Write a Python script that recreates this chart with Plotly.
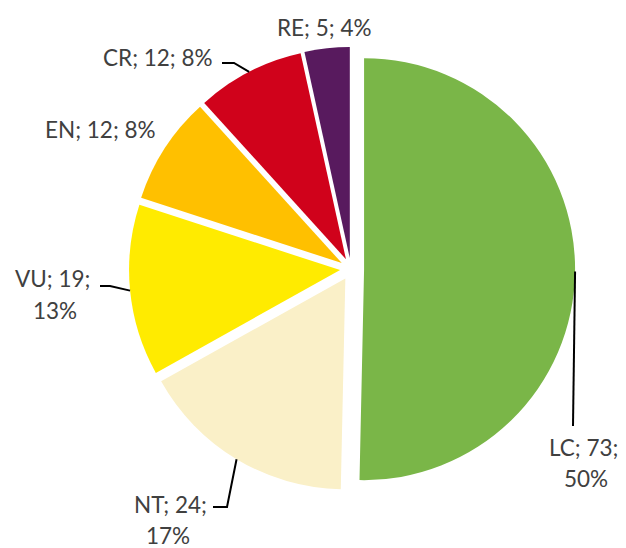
import math
import plotly.graph_objects as go

# ---- data ----
categories = ["LC", "NT", "VU", "EN", "CR", "RE"]
counts = [73, 24, 19, 12, 12, 5]
percent_labels = ["50%", "17%", "13%", "8%", "8%", "4%"]
colors = ["#7AB648", "#FAF0C8", "#FFEB00", "#FFC000", "#D0021B", "#581A5E"]
pulls = [0.062, 0.052, 0.052, 0.052, 0.052, 0.052]

# page body has an 8px margin, so figure origin sits at (8, 8) on screen
OFF = 8
W, H = 626 - OFF, 548 - OFF
CX, CY, R = 351 - OFF, 269 - OFF, 211  # pie centre / radius in figure px
max_pull = max(pulls)
size = R * 2 * (1 + max_pull)
dom_x = [(CX - size / 2) / W, (CX + size / 2) / W]
dom_y = [1 - (CY + size / 2) / H, 1 - (CY - size / 2) / H]

fig = go.Figure(go.Pie(
    labels=categories, values=counts, marker=dict(colors=colors, line=dict(width=0)),
    pull=pulls, sort=False, direction="clockwise", rotation=0,
    textinfo="none", hoverinfo="label+value+percent", showlegend=False,
    domain=dict(x=dom_x, y=dom_y),
))

# label layout (screen px): line centres and leader-line elbows
label_layout = {
    "LC": dict(lines=[(583, 447), (586, 478)], elbow=[(573, 426)], two=True),
    "NT": dict(lines=[(171, 504), (168, 535)], elbow=[(227, 507), (213, 507)], two=True),
    "VU": dict(lines=[(52, 278), (55, 310)], elbow=[(110, 286), (100, 286)], two=True),
    "EN": dict(lines=[(100, 130)], elbow=None, two=False),
    "CR": dict(lines=[(158, 58)], elbow=[(234, 63), (222, 63)], two=False),
    "RE": dict(lines=[(324, 27)], elbow=None, two=False),
}

def px2paper(x, y):
    return x / W, 1 - y / H

total = sum(counts)
cum = 0
font = dict(family="Lato, Open Sans, sans-serif", size=22.5, color="#404040")
for cat, v, pct, p in zip(categories, counts, percent_labels, pulls):
    mid = (cum + v / 2) / total * 2 * math.pi
    cum += v
    lay = label_layout[cat]
    texts = [f"{cat}; {v};", pct] if lay["two"] else [f"{cat}; {v}; {pct}"]
    for t, (lx, ly) in zip(texts, lay["lines"]):
        ax_, ay_ = px2paper(lx - OFF, ly - OFF)
        fig.add_annotation(x=ax_, y=ay_, xref="paper", yref="paper", text=t,
                           showarrow=False, font=font, xanchor="center", yanchor="middle")
    if lay["elbow"]:
        dist = R * (1 + p)
        sx = CX + dist * math.sin(mid)
        sy = CY - dist * math.cos(mid)
        pts = [(sx, sy)] + [(x - OFF, y - OFF) for x, y in lay["elbow"]]
        path = "M " + " L ".join(f"{px2paper(x, y)[0]:.5f},{px2paper(x, y)[1]:.5f}" for x, y in pts)
        fig.add_shape(type="path", path=path, xref="paper", yref="paper",
                      line=dict(color="black", width=2))

fig.update_layout(width=W, height=H, margin=dict(l=0, r=0, t=0, b=0, pad=0),
                  paper_bgcolor="white", plot_bgcolor="white")
fig.write_html("out.html")
